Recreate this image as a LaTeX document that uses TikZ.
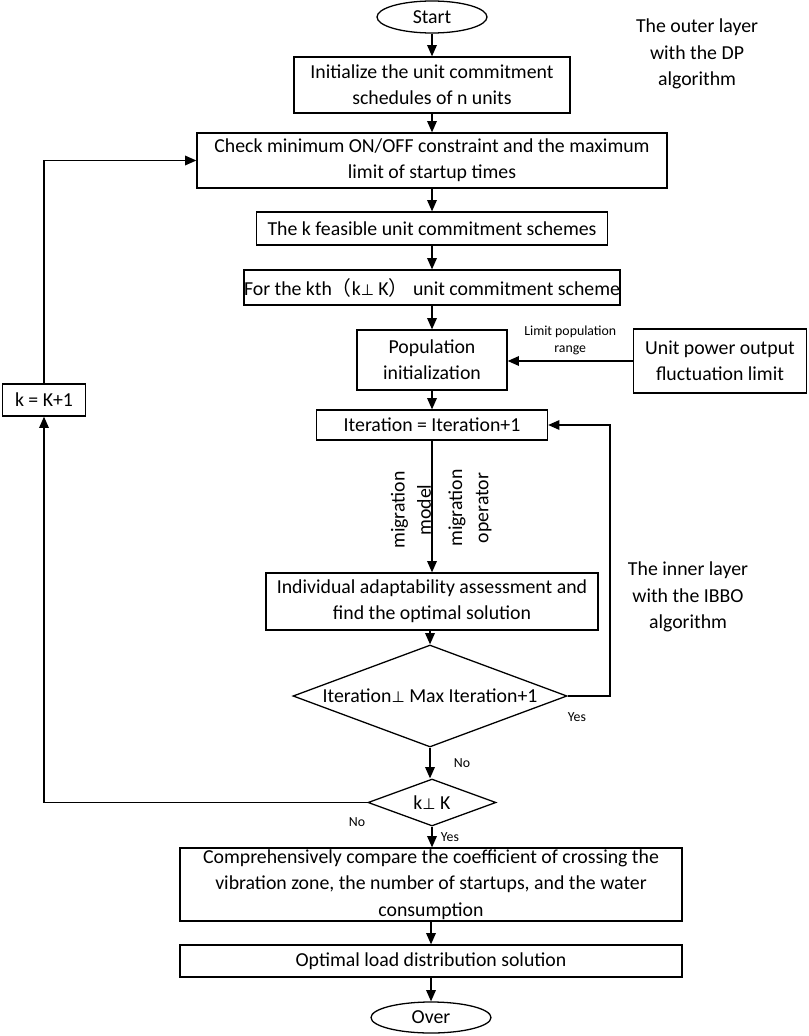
\documentclass[tikz,border=0pt]{standalone}
\usepackage{fontspec}
\setmainfont{Carlito}
\newfontfamily\symfont{DejaVu Sans}
\newfontfamily\cjk{Noto Sans CJK SC}
\usepackage{tikz}
\usetikzlibrary{arrows.meta, positioning, shapes.geometric, calc}
\newcommand{\mainfs}{\fontsize{16.9}{22.4}\selectfont}
\newcommand{\smallfs}{\fontsize{11.8}{15}\selectfont}
\newcommand{\perpsym}{{\symfont\fontsize{13}{14}\selectfont ⊥}}

\begin{document}
\begin{tikzpicture}[
  x=0.3mm, y=-0.3mm,
  box/.style={rectangle, draw, line width=1.1pt, align=center,
              inner sep=0pt, font=\mainfs},
  term/.style={ellipse, draw, line width=1.1pt, inner sep=0pt,
               font=\mainfs},
  decide/.style={diamond, draw, line width=1.1pt, inner sep=0pt,
                 aspect=2.7, font=\mainfs},
  note/.style={align=center, font=\mainfs},
  tag/.style={align=center, font=\smallfs},
  arr/.style={-{Triangle[length=3.4mm, width=2.9mm]}, line width=1.1pt}
]
  \useasboundingbox (0,0) rectangle (809,1036);

  % main column
  \node[term] (start) at (432, 17) [minimum width=3.3cm, minimum height=0.96cm] {Start};
  \node[box] (init) at (432, 85) [minimum width=8.28cm, minimum height=1.68cm]
    {Initialize the unit commitment\\schedules of n units};
  \node[box] (check) at (432, 160.5) [minimum width=14.1cm, minimum height=1.65cm]
    {Check minimum ON/OFF constraint and the maximum\\limit of startup times};
  \node[box] (feas) at (432, 228.5) [minimum width=10.53cm, minimum height=0.99cm]
    {The k feasible unit commitment schemes};
  \node[box] (kth) at (432, 287.5) [minimum width=11.28cm, minimum height=1.05cm]
    {For the kth{\cjk （}k\perpsym\ K{\cjk ）} unit commitment scheme};
  \node[box] (pop) at (432, 360) [minimum width=4.5cm, minimum height=1.8cm]
    {Population\\initialization};
  \node[box] (upow) at (720, 361) [minimum width=5.19cm, minimum height=1.92cm]
    {Unit power output\\fluctuation limit};
  \node[box] (iter) at (432, 425) [minimum width=6.93cm, minimum height=0.9cm]
    {Iteration = Iteration+1};
  \node[box] (indiv) at (432, 601.5) [minimum width=9.96cm, minimum height=1.71cm]
    {Individual adaptability assessment and\\find the optimal solution};
  \node[decide] (maxit) at (430, 696) [minimum width=8.22cm, minimum height=3.06cm]
    {Iteration\perpsym\ Max Iteration+1};
  \node[decide] (kcheck) at (432, 802.5) [minimum width=3.84cm, minimum height=1.41cm]
    {k\perpsym\ K};
  \node[box] (kinc) at (44, 400) [minimum width=2.49cm, minimum height=0.96cm]
    {k = K+1};
  \node[box] (comp) at (431, 884.5) [minimum width=15.06cm, minimum height=2.19cm]
    {Comprehensively compare the coefficient of crossing the\\vibration zone, the number of startups, and the water\\consumption};
  \node[box] (opt) at (431, 961) [minimum width=15.06cm, minimum height=0.96cm]
    {Optimal load distribution solution};
  \node[term] (over) at (431, 1017.5) [minimum width=3.6cm, minimum height=0.93cm] {Over};

  % side texts
  \node[note] (outer) at (697, 54) {The outer layer\\with the DP\\algorithm};
  \node[note] (inner) at (688, 597) {The inner layer\\with the IBBO\\algorithm};
  \node[note, rotate=90] (mmodel) at (411, 510) {migration\\model};
  \node[note, rotate=90] (moper) at (470, 508) {migration\\operator};

  \coordinate (loopR) at (610, 425);

  % connectors
  \draw[arr] (start.south) -- (init.north);
  \draw[arr] (init.south) -- (check.north);
  \draw[arr] (check.south) -- (feas.north);
  \draw[arr] (feas.south) -- (kth.north);
  \draw[arr] (kth.south) -- (pop.north);
  \draw[arr] (pop.south) -- (iter.north);
  \draw[arr] (iter.south -| indiv.north) -- (indiv.north);
  \draw[arr] (indiv.south -| maxit.north) -- (maxit.north);
  \draw[arr] (maxit.south) -- (maxit.south |- kcheck.north);
  \draw[arr] (kcheck.south) -- (kcheck.south |- comp.north);
  \draw[arr] (comp.south) -- (opt.north);
  \draw[arr] (opt.south) -- (over.north);
  \draw[arr] (upow.west) -- node[tag, above=1pt]{Limit population\\range} (upow.west -| pop.east);
  \draw[arr] (maxit.east) -| (loopR) -- (iter.east);
  \draw[arr] (kcheck.west) -| (kinc.south);
  \draw[arr] (kinc.north) |- (check.west);

  % branch labels
  \node[tag] (yes1) at (577, 717) {Yes};
  \node[tag] (no1) at (462, 763) {No};
  \node[tag] (no2) at (357, 822) {No};
  \node[tag] (yes2) at (450, 837) {Yes};
\end{tikzpicture}
\end{document}
